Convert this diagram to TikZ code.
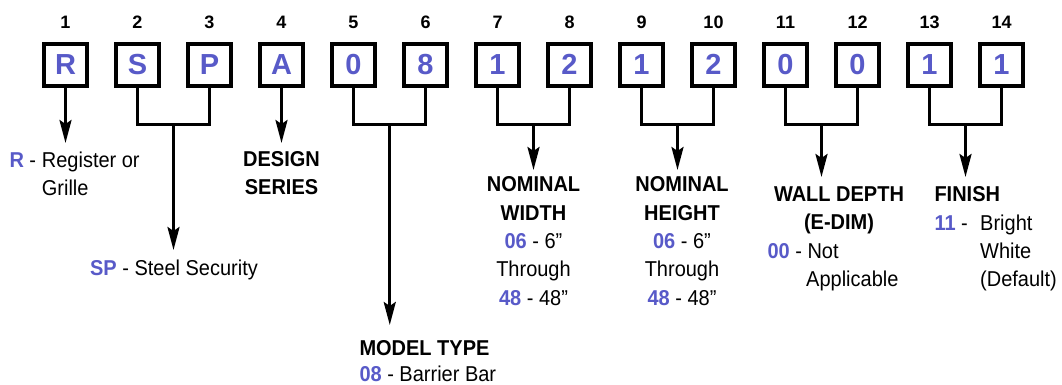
\documentclass[tikz,border=0pt]{standalone}
\usepackage{fontspec}
\setmainfont{Liberation Sans}
\newfontfamily\narrowfont{Liberation Sans}[FakeStretch=0.93]
\usetikzlibrary{arrows.meta}
\definecolor{codeblue}{RGB}{88,90,200}
\begin{document}
\begin{tikzpicture}[x=1pt,y=-1pt,
  digitbox/.style={draw,line width=4pt,minimum width=43.5pt,minimum height=42pt,inner sep=0pt,
    text=codeblue,font=\fontsize{29}{29}\selectfont\bfseries},
  posnum/.style={anchor=base,inner sep=0pt,font=\fontsize{18}{18}\selectfont\bfseries},
  conn/.style={line width=3pt},
  arr/.style={line width=3pt,-{Stealth[length=23pt,width=12pt,inset=4pt]}},
  txt/.style={inner sep=0pt,font=\narrowfont\fontsize{21.5}{28}\selectfont},
  hdr/.style={inner sep=0pt,font=\narrowfont\fontsize{21.5}{28}\selectfont\bfseries},
]
\useasboundingbox (0,0) rectangle (1062,385);
% boxes and position numbers
\foreach \i/\c in {1/R,2/S,3/P,4/A,5/0,6/8,7/1,8/2,9/1,10/2,11/0,12/0,13/1,14/1}{
  \node[digitbox] (b\i) at ({65.5+72*(\i-1)},64.8) {\c};
  \node[posnum] (n\i) at ({65.5+72*(\i-1)},29) {\i};
}
% junctions and tips
\coordinate (t1) at (65.5,143);
\coordinate (j23) at (173.5,125);  \coordinate (t23) at (173.5,250);
\coordinate (t4) at (281.5,143);
\coordinate (j56) at (389.75,125); \coordinate (t56) at (389.75,325);
\coordinate (j78) at (533.5,125);  \coordinate (t78) at (533.5,170);
\coordinate (j910) at (677.5,125); \coordinate (t910) at (677.5,170);
\coordinate (j1112) at (821.5,125); \coordinate (t1112) at (821.5,177);
\coordinate (j1314) at (965.5,125); \coordinate (t1314) at (965.5,177);
% connectors
\draw[arr] (b1.south) -- (t1);
\draw[arr] (b4.south) -- (t4);
\foreach \a/\b in {2/3,5/6,7/8,9/10,11/12,13/14}{
  \draw[conn] (b\a.south) |- (j\a\b) -| (b\b.south);
  \draw[arr] (j\a\b) -- (t\a\b);
}
% R
\node[txt,anchor=base west] (r1) at (9.3,167) {{\color{codeblue}\bfseries R} -};
\node[txt,anchor=base west] (r2) at (41.7,167) {Register or};
\node[txt,anchor=base west] (r3) at (41.7,195) {Grille};
% Design series
\node[hdr,anchor=base] (d1) at (281.5,166.7) {DESIGN};
\node[hdr,anchor=base] (d2) at (281.5,194) {SERIES};
% SP
\node[txt,anchor=base] (sp) at (174,275) {{\color{codeblue}\bfseries SP} - Steel Security};
% Model type
\node[hdr,anchor=base west] (m1) at (359.3,355) {MODEL TYPE};
\node[txt,anchor=base west] (m2) at (359.3,381.7) {{\color{codeblue}\bfseries 08} - Barrier Bar};
% Nominal width
\node[hdr,anchor=base] (w1) at (533.5,191.7) {NOMINAL};
\node[hdr,anchor=base] (w2) at (533.5,220) {WIDTH};
\node[txt,anchor=base] (w3) at (533.5,248) {{\color{codeblue}\bfseries 06} - 6”};
\node[txt,anchor=base] (w4) at (533.5,276.7) {Through};
\node[txt,anchor=base] (w5) at (533.5,305) {{\color{codeblue}\bfseries 48} - 48”};
% Nominal height
\node[hdr,anchor=base] (h1) at (682,191.7) {NOMINAL};
\node[hdr,anchor=base] (h2) at (682,220) {HEIGHT};
\node[txt,anchor=base] (h3) at (682,248) {{\color{codeblue}\bfseries 06} - 6”};
\node[txt,anchor=base] (h4) at (682,276.7) {Through};
\node[txt,anchor=base] (h5) at (682,305) {{\color{codeblue}\bfseries 48} - 48”};
% Wall depth
\node[hdr,anchor=base] (e1) at (839,201.7) {WALL DEPTH};
\node[hdr,anchor=base] (e2) at (839,229.5) {(E-DIM)};
\node[txt,anchor=base west] (e3) at (767.3,258) {{\color{codeblue}\bfseries 00} - Not};
\node[txt,anchor=base west] (e4) at (806,286.7) {Applicable};
% Finish
\node[hdr,anchor=base west] (f1) at (934.3,201.7) {FINISH};
\node[txt,anchor=base west] (f2) at (934.3,230) {{\color{codeblue}\bfseries 11} -};
\node[txt,anchor=base west] (f3) at (980,230) {Bright};
\node[txt,anchor=base west] (f4) at (980,258) {White};
\node[txt,anchor=base west] (f5) at (980,286.7) {(Default)};
\end{tikzpicture}
\end{document}
